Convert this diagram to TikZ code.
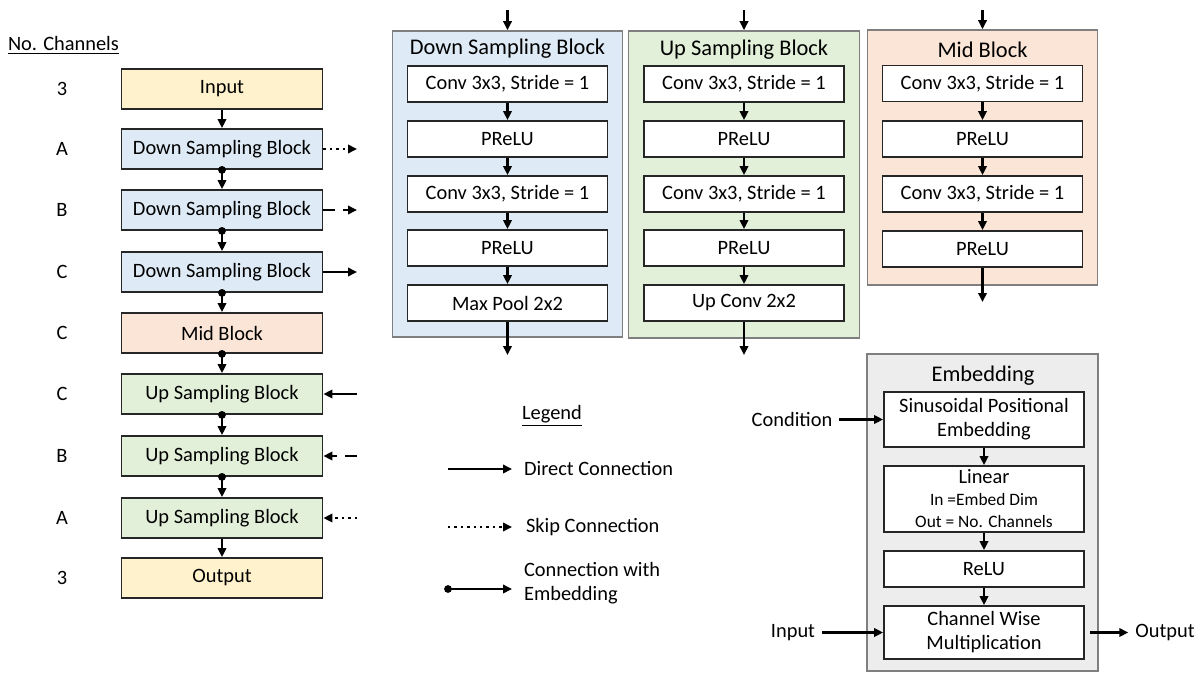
\documentclass[tikz,border=0pt]{standalone}
\usepackage{fontspec}
\setmainfont{Carlito}
\usepackage{tikz}
\usetikzlibrary{arrows.meta, positioning}

\definecolor{inyellow}{HTML}{FFF2CC}
\definecolor{downblue}{HTML}{DEEBF7}
\definecolor{midorange}{HTML}{FBE5D6}
\definecolor{upgreen}{HTML}{E2F0D9}
\definecolor{embgray}{HTML}{EDEDED}
\definecolor{contline}{HTML}{7F7F7F}

\tikzset{
  blk/.style={draw=black!85, line width=0.9pt, minimum width=100.5pt, minimum height=20pt, inner sep=0pt, font=\fontsize{10.2}{12}\selectfont},
  layer/.style={draw=black!85, fill=white, line width=0.9pt, minimum width=100pt, minimum height=18pt, inner sep=0pt, align=center, font=\fontsize{10.2}{12}\selectfont},
  cont/.style={draw=contline, line width=0.8pt, inner sep=0pt},
  ttl/.style={font=\fontsize{11.2}{13}\selectfont},
  lbl/.style={font=\fontsize{10.2}{12}\selectfont},
  conn/.style={line width=1.2pt, -{Triangle[length=4.5pt,width=4.2pt]}},
  embconn/.style={line width=1.2pt, {Circle[length=3.8pt]}-{Triangle[length=4.5pt,width=4.2pt]}, shorten <=-1.9pt},
  dashconn/.style={conn, dash pattern=on 6pt off 4pt},
}

\begin{document}
\begin{tikzpicture}[x=0.5pt,y=-0.5pt]
  \useasboundingbox (0,0) rectangle (1203,674);

  % network overview
  \node[lbl, anchor=west] (nch) at (1,45) {\underline{No. Channels}};
  \node[blk, fill=inyellow] (inp) at (222,89) {Input};
  \node[blk, fill=downblue] (dA) at (222,149) {Down Sampling Block};
  \node[blk, fill=downblue] (dB) at (222,210) {Down Sampling Block};
  \node[blk, fill=downblue] (dC) at (222,272) {Down Sampling Block};
  \node[blk, fill=midorange] (mid) at (222,333) {Mid Block};
  \node[blk, fill=upgreen] (uC) at (222,394) {Up Sampling Block};
  \node[blk, fill=upgreen] (uB) at (222,456) {Up Sampling Block};
  \node[blk, fill=upgreen] (uA) at (222,518) {Up Sampling Block};
  \node[blk, fill=inyellow] (outp) at (222,578) {Output};

  \node[lbl] (n1) at (62,89) {3};
  \node[lbl] (n2) at (62,149) {A};
  \node[lbl] (n3) at (62,210) {B};
  \node[lbl] (n4) at (62,272) {C};
  \node[lbl] (n5) at (62,333) {C};
  \node[lbl] (n6) at (62,394) {C};
  \node[lbl] (n7) at (62,456) {B};
  \node[lbl] (n8) at (62,518) {A};
  \node[lbl] (n9) at (62,578) {3};

  \draw[conn] (inp) -- (dA);
  \draw[embconn] (dA) -- (dB);
  \draw[embconn] (dB) -- (dC);
  \draw[embconn] (dC) -- (mid);
  \draw[embconn] (mid) -- (uC);
  \draw[embconn] (uC) -- (uB);
  \draw[embconn] (uB) -- (uA);
  \draw[conn] (uA) -- (outp);

  % skip connections
  \coordinate (sA) at (357,149);
  \coordinate (sB) at (357,210);
  \coordinate (sC) at (357,272);
  \coordinate (tC) at (357,394);
  \coordinate (tB) at (357,456);
  \coordinate (tA) at (357,518);
  \draw[conn, dotted] (dA) -- (sA);
  \draw[dashconn] (dB) -- (sB);
  \draw[conn] (dC) -- (sC);
  \draw[conn] (tC) -- (uC);
  \draw[dashconn] (tB) -- (uB);
  \draw[conn, dotted] (tA) -- (uA);

  % down sampling block
  \node[cont, fill=downblue, minimum width=115pt, minimum height=153pt] (dsb) at (507.5,184) {};
  \node[ttl] (dsbt) at (507.5,49) {Down Sampling Block};
  \node[layer] (d1) at (507.5,84) {Conv 3x3, Stride = 1};
  \node[layer] (d2) at (507.5,139) {PReLU};
  \node[layer] (d3) at (507.5,194) {Conv 3x3, Stride = 1};
  \node[layer] (d4) at (507.5,248) {PReLU};
  \node[layer] (d5) at (507.5,303) {Max Pool 2x2};
  \coordinate (dsbin) at (507.5,10);
  \coordinate (dsbout) at (507.5,355);
  \draw[conn] (dsbin) -- (dsb);
  \draw[conn] (d1) -- (d2);
  \draw[conn] (d2) -- (d3);
  \draw[conn] (d3) -- (d4);
  \draw[conn] (d4) -- (d5);
  \draw[conn] (d5) -- (dsbout);

  % up sampling block
  \node[cont, fill=upgreen, minimum width=115.5pt, minimum height=153.5pt] (usb) at (744,184.5) {};
  \node[ttl] (usbt) at (744,50) {Up Sampling Block};
  \node[layer] (u1) at (744,84) {Conv 3x3, Stride = 1};
  \node[layer] (u2) at (744,139) {PReLU};
  \node[layer] (u3) at (744,194) {Conv 3x3, Stride = 1};
  \node[layer] (u4) at (744,248) {PReLU};
  \node[layer] (u5) at (744,303) {Up Conv 2x2};
  \coordinate (usbin) at (744,10);
  \coordinate (usbout) at (744,355);
  \draw[conn] (usbin) -- (usb);
  \draw[conn] (u1) -- (u2);
  \draw[conn] (u2) -- (u3);
  \draw[conn] (u3) -- (u4);
  \draw[conn] (u4) -- (u5);
  \draw[conn] (u5) -- (usbout);

  % mid block
  \node[cont, fill=midorange, minimum width=115pt, minimum height=127.5pt] (mb) at (982.5,157.5) {};
  \node[ttl] (mbt) at (982.5,50) {Mid Block};
  \node[layer] (m1) at (982.5,83.5) {Conv 3x3, Stride = 1};
  \node[layer] (m2) at (982.5,139) {PReLU};
  \node[layer] (m3) at (982.5,194) {Conv 3x3, Stride = 1};
  \node[layer] (m4) at (982.5,249) {PReLU};
  \coordinate (mbin) at (982.5,10);
  \coordinate (mbout) at (982.5,302);
  \draw[conn] (mbin) -- (mb);
  \draw[conn] (m1) -- (m2);
  \draw[conn] (m2) -- (m3);
  \draw[conn] (m3) -- (m4);
  \draw[conn] (m4) -- (mbout);

  % embedding
  \node[cont, fill=embgray, minimum width=115.5pt, minimum height=158.5pt] (emb) at (982.5,512.5) {};
  \node[ttl] (embt) at (983,376) {Embedding};
  \node[layer, minimum height=27.5pt] (e1) at (984,419.5) {Sinusoidal Positional\\Embedding};
  \node[layer, minimum height=33pt, font=\fontsize{10.2}{11}\selectfont] (e2) at (984,499) {Linear\\{\fontsize{8.7}{11}\selectfont In =Embed Dim}\\{\fontsize{8.7}{11}\selectfont Out = No. Channels}};
  \node[layer] (e3) at (984,569) {ReLU};
  \node[layer, minimum height=26.5pt] (e4) at (984,632.5) {Channel Wise\\Multiplication};
  \node[lbl] (cond) at (792,419.5) {Condition};
  \node[lbl] (embin) at (793,632.5) {Input};
  \node[lbl] (embout) at (1165,632.5) {Output};
  \draw[conn] (cond) -- (e1);
  \draw[conn] (e1) -- (e2);
  \draw[conn] (e2) -- (e3);
  \draw[conn] (e3) -- (e4);
  \draw[conn] (embin) -- (e4);
  \draw[conn, shorten <=2.5pt] (e4) -- (embout);

  % legend
  \node[lbl] (lgd) at (552,416) {\underline{Legend}};
  \coordinate (lg1) at (448,469);
  \coordinate (lg2) at (448,527);
  \coordinate (lg3) at (448,589);
  \node[lbl, anchor=west] (ldc) at (517,469) {Direct Connection};
  \node[lbl, anchor=west] (lsc) at (519,527) {Skip Connection};
  \node[lbl, anchor=west, align=left] (lec) at (517,583) {Connection with\\Embedding};
  \draw[conn, shorten >=2.5pt] (lg1) -- (ldc.west);
  \draw[conn, dotted, shorten >=3.5pt] (lg2) -- (lsc.west);
  \draw[embconn, shorten >=2.5pt] (lg3) -- (lg3 -| lec.west);
\end{tikzpicture}
\end{document}
